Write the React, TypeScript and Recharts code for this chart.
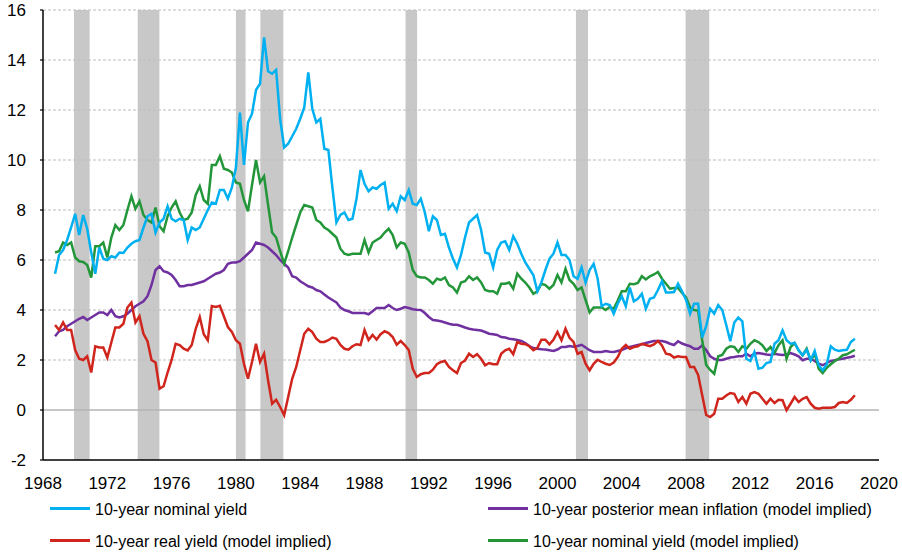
import React from 'react';
import { LineChart, Line, XAxis, YAxis, ReferenceArea, ReferenceLine } from 'recharts';

const FONT = '"Liberation Sans", Arial, Helvetica, sans-serif';

// Quarterly observations, first quarter = 1968 Q4
const START_YEAR = 1968.75;

const nominalYield = [
  5.45, 6.2, 6.4, 6.8, 7.3, 7.85, 7.0, 7.8, 7.25, 6.3,
  5.45, 6.5, 6.05, 6.0, 6.15, 6.1, 6.3, 6.28, 6.5, 6.65,
  6.75, 6.8, 7.3, 7.75, 7.85, 7.1, 7.5, 7.65, 8.15, 7.65,
  7.55, 7.65, 7.6, 6.8, 7.3, 7.2, 7.3, 7.65, 8.0, 8.3,
  8.25, 8.8, 8.8, 8.45, 8.9, 9.7, 11.9, 9.8, 11.5, 11.85,
  12.8, 13.05, 14.9, 13.55, 13.45, 13.6, 11.65, 10.5, 10.65, 10.95,
  11.25, 11.65, 12.1, 13.5, 12.05, 11.5, 11.65, 10.45, 10.4, 8.9,
  7.5, 7.8, 7.9, 7.6, 7.65, 8.45, 9.6, 9.05, 8.75, 8.9,
  8.85, 9.0, 9.1, 8.05, 8.25, 7.95, 8.55, 8.4, 8.8, 8.25,
  8.2, 8.45, 7.9, 7.15, 7.75, 7.6, 7.0, 7.05, 6.5, 6.05,
  5.7, 6.2, 6.9, 7.5, 7.65, 7.8, 7.2, 6.3, 6.25, 5.7,
  6.4, 6.7, 6.75, 6.4, 6.95, 6.65, 6.25, 5.9, 5.65, 5.4,
  4.75, 5.1, 5.6, 6.05, 6.25, 6.7, 6.2, 6.2, 6.0, 5.35,
  5.25, 5.7, 5.1, 5.6, 5.85, 5.25, 4.15, 4.25, 4.2, 3.85,
  4.25, 4.55, 4.15, 4.9, 4.35, 4.45, 4.65, 4.05, 4.45, 4.5,
  4.8, 5.15, 4.7, 4.7, 4.72, 5.05, 4.75, 4.4, 3.85, 4.25,
  4.25, 2.9, 3.35, 4.05, 3.85, 4.2, 4.0, 3.4, 2.75, 3.5,
  3.7, 3.55, 2.05, 1.96, 2.32, 1.65, 1.69, 1.88, 1.92, 2.65,
  2.79, 3.19, 2.79, 2.65, 2.68, 2.39, 2.19, 2.41, 1.99, 2.36,
  1.79, 1.59, 1.83, 2.55, 2.41, 2.36, 2.39, 2.41, 2.72, 2.85,
];

const meanInflation = [
  2.95, 3.15, 3.2, 3.35, 3.45, 3.55, 3.65, 3.72, 3.6, 3.7,
  3.8, 3.9, 3.9, 3.8, 4.0, 3.75, 3.7, 3.75, 3.85, 4.0,
  4.15, 4.25, 4.35, 4.55, 5.0, 5.6, 5.75, 5.55, 5.5, 5.4,
  5.2, 4.95, 4.95, 5.0, 5.0, 5.05, 5.1, 5.15, 5.25, 5.35,
  5.45, 5.5, 5.6, 5.85, 5.9, 5.9, 5.95, 6.1, 6.25, 6.4,
  6.7, 6.65, 6.6, 6.5, 6.35, 6.2, 6.0, 5.85, 5.7, 5.35,
  5.3, 5.15, 5.05, 4.95, 4.9, 4.8, 4.75, 4.62, 4.5, 4.4,
  4.3, 4.1, 4.0, 3.95, 3.88, 3.88, 3.88, 3.88, 3.83, 3.95,
  4.08, 4.08, 4.08, 4.2, 4.08, 4.0, 4.05, 4.12, 4.08, 4.03,
  4.01, 4.0, 3.88, 3.72, 3.6, 3.58, 3.55, 3.5, 3.45, 3.41,
  3.41, 3.36, 3.3, 3.25, 3.22, 3.2, 3.18, 3.12, 3.05, 3.03,
  3.0, 2.92, 2.9, 2.85, 2.83, 2.8, 2.76, 2.68, 2.56, 2.48,
  2.45, 2.43, 2.42, 2.39, 2.36, 2.42, 2.52, 2.52, 2.56, 2.53,
  2.56, 2.61, 2.5, 2.39, 2.32, 2.32, 2.32, 2.36, 2.33, 2.32,
  2.36, 2.4, 2.47, 2.52, 2.56, 2.6, 2.63, 2.68, 2.72, 2.76,
  2.76, 2.76, 2.72, 2.65, 2.6, 2.75, 2.66, 2.6, 2.55, 2.45,
  2.45, 2.58, 2.4, 2.15, 2.05, 2.0, 2.0, 2.05, 2.1, 2.12,
  2.15, 2.15, 2.25, 2.15, 2.25, 2.28, 2.25, 2.22, 2.2, 2.25,
  2.22, 2.2, 2.22, 2.28, 2.22, 2.15, 1.99, 2.05, 2.05, 1.96,
  1.85, 1.79, 1.88, 1.96, 1.99, 2.03, 2.05, 2.09, 2.12, 2.17,
];

const realYield = [
  3.4, 3.2, 3.5, 3.2, 3.2, 2.4, 2.05, 2.0, 2.15, 1.5,
  2.55, 2.5, 2.5, 2.1, 2.7, 3.3, 3.3, 3.45, 4.1, 4.3,
  3.5, 3.75, 3.05, 2.75, 2.0, 1.9, 0.85, 0.95, 1.5, 2.0,
  2.65, 2.6, 2.45, 2.38, 2.6, 3.25, 3.72, 3.03, 2.79, 4.16,
  4.12, 4.17, 3.75, 3.32, 3.12, 2.79, 2.65, 1.85, 1.25, 1.92,
  2.65, 1.92, 2.25, 1.19, 0.25, 0.41, 0.12, -0.21, 0.52, 1.25,
  1.72, 2.39, 3.05, 3.25, 3.12, 2.85, 2.72, 2.72, 2.79, 2.9,
  2.85, 2.6, 2.45, 2.41, 2.55, 2.63, 2.6, 3.2, 2.8, 3.0,
  2.82, 3.03, 3.15, 3.08, 2.92, 2.61, 2.76, 2.6, 2.4, 1.65,
  1.32, 1.43, 1.48, 1.48, 1.61, 1.83, 1.92, 1.96, 1.72, 1.59,
  1.48, 1.88, 1.98, 2.25, 2.12, 2.23, 2.05, 1.79, 1.88, 1.83,
  1.83, 2.25, 2.39, 2.45, 2.23, 2.72, 2.65, 2.63, 2.55, 2.39,
  2.49, 2.81, 2.81, 2.63, 2.81, 3.12, 2.79, 3.25, 2.89, 2.72,
  2.25, 2.32, 1.85, 1.59, 1.85, 2.01, 1.92, 1.85, 1.8, 1.9,
  2.12, 2.45, 2.6, 2.45, 2.52, 2.55, 2.65, 2.6, 2.55, 2.62,
  2.76, 2.58, 2.25, 2.22, 2.1, 2.15, 2.12, 2.12, 1.72, 1.72,
  1.4, 0.6, -0.2, -0.28, -0.15, 0.45, 0.45, 0.58, 0.68, 0.65,
  0.32, 0.52, 0.25, 0.65, 0.72, 0.65, 0.45, 0.25, 0.45, 0.28,
  0.41, 0.39, -0.01, 0.25, 0.52, 0.32, 0.45, 0.52, 0.25, 0.09,
  0.05, 0.09, 0.09, 0.09, 0.12, 0.28, 0.32, 0.28, 0.41, 0.59,
];

const modelNominal = [
  6.3, 6.35, 6.7, 6.6, 6.7, 6.1, 5.95, 5.92, 5.8, 5.3,
  6.55, 6.55, 6.7, 6.1, 6.9, 7.4, 7.2, 7.4, 8.0, 8.55,
  8.05, 8.35, 7.8, 7.6, 7.5, 8.1, 7.35, 7.15, 7.75, 8.1,
  8.35, 7.9, 7.6, 7.65, 7.9, 8.6, 8.95, 8.4, 8.25, 9.8,
  9.8, 10.15, 9.65, 9.6, 9.5, 9.1, 9.05, 8.4, 7.95, 9.0,
  10.0, 9.1, 9.35, 8.2, 7.1, 6.9, 6.35, 5.85, 6.35, 6.9,
  7.4, 7.9, 8.2, 8.15, 8.1, 7.6, 7.5, 7.3, 7.2, 7.05,
  6.9, 6.45, 6.25, 6.2, 6.25, 6.25, 6.25, 6.8, 6.3, 6.7,
  6.8, 6.9, 7.1, 7.25, 7.0, 6.5, 6.7, 6.65, 6.3, 5.6,
  5.35, 5.3, 5.3, 5.2, 5.05, 5.25, 5.2, 5.3, 5.0, 4.9,
  4.7, 5.1, 5.15, 5.35, 5.2, 5.3, 5.1, 4.8, 4.75, 4.75,
  4.65, 5.05, 5.05, 5.1, 4.85, 5.45, 5.25, 5.1, 4.9, 4.65,
  4.75, 5.05, 5.0, 4.85, 5.0, 5.4, 5.1, 5.65, 5.2, 5.05,
  4.8, 4.9, 4.4, 3.9, 4.1, 4.1, 4.1, 4.0, 4.12, 4.05,
  4.38, 4.75, 4.75, 5.05, 5.03, 5.08, 5.35, 5.22, 5.35, 5.42,
  5.52, 5.25, 5.05, 4.85, 4.88, 4.88, 4.68, 4.5, 4.1, 4.0,
  3.98, 2.8, 1.8, 1.6, 1.45, 2.15, 2.2, 2.45, 2.55, 2.52,
  2.32, 2.55, 2.45, 2.65, 2.79, 2.72, 2.59, 2.36, 2.52, 2.28,
  2.59, 2.79, 2.05, 2.52, 2.68, 2.39, 2.19, 2.45, 1.99, 2.25,
  1.65, 1.48, 1.69, 1.83, 1.96, 2.05, 2.19, 2.23, 2.32, 2.41,
];

// NBER recessions (start, end) in fractional years
const recessions: [number, number][] = [
  [1969.93, 1970.9],
  [1973.89, 1975.24],
  [1980.0, 1980.6],
  [1981.52, 1982.95],
  [1990.55, 1991.27],
  [2001.15, 2001.9],
  [2007.97, 2009.44],
];

const xTicks = [1968, 1972, 1976, 1980, 1984, 1988, 1992, 1996, 2000, 2004, 2008, 2012, 2016, 2020];
const yTicks = [-2, 0, 2, 4, 6, 8, 10, 12, 14, 16];
const gridLevels = [2, 4, 6, 8, 10, 12, 14, 16];

const seriesNames = {
  nominal: '10-year nominal yield',
  inflation: '10-year posterior mean inflation (model implied)',
  real: '10-year real yield (model implied)',
  model: '10-year nominal yield (model implied)',
};

const COLORS = {
  nominal: '#00b0f0',
  inflation: '#7030a0',
  real: '#d0251c',
  model: '#23963a',
};

const data = nominalYield.map((v, i) => ({
  t: START_YEAR + 0.25 * i,
  nominal: v,
  inflation: meanInflation[i],
  real: realYield[i],
  model: modelNominal[i],
}));

const legendItems = [
  { key: 'nominal', lx: 50, tx: 95, cy: 509 },
  { key: 'inflation', lx: 488, tx: 533, cy: 509 },
  { key: 'real', lx: 50, tx: 95, cy: 541 },
  { key: 'model', lx: 488, tx: 533, cy: 541 },
] as const;

export default function App() {
  return (
    <div style={{ position: 'absolute', left: 0, top: 0, width: 902, height: 553, background: '#fff', fontFamily: FONT }}>
      <LineChart width={902} height={553} data={data} margin={{ top: 10, right: 23, bottom: 63, left: 0 }}>
        <XAxis
          xAxisId="x"
          dataKey="t"
          type="number"
          domain={[1968, 2020]}
          ticks={xTicks}
          interval={0}
          allowDataOverflow
          height={30}
          tickLine={false}
          tickSize={0}
          tickMargin={17}
          axisLine={{ stroke: '#000', strokeWidth: 1.5 }}
          tick={{ fill: '#000', fontSize: 17, fontFamily: FONT }}
        />
        <XAxis
          xAxisId="xt"
          dataKey="t"
          type="number"
          domain={[1968, 2020]}
          ticks={xTicks}
          interval={0}
          allowDataOverflow
          mirror
          tick={false}
          axisLine={false}
          tickSize={4}
          tickLine={{ stroke: '#000', strokeWidth: 1.2 }}
        />
        <YAxis
          yAxisId="y"
          type="number"
          domain={[-2, 16]}
          ticks={yTicks}
          interval={0}
          width={43}
          tickSize={3}
          tickMargin={14}
          tickLine={{ stroke: '#000', strokeWidth: 1.2 }}
          axisLine={{ stroke: '#000', strokeWidth: 1.5 }}
          tick={{ fill: '#000', fontSize: 17, fontFamily: FONT }}
        />
        <YAxis
          yAxisId="yr"
          orientation="right"
          mirror
          type="number"
          domain={[-2, 16]}
          ticks={yTicks}
          interval={0}
          width={0}
          tick={false}
          tickSize={4}
          tickLine={{ stroke: '#000', strokeWidth: 1.2 }}
          axisLine={{ stroke: '#000', strokeWidth: 1.5 }}
        />
        {recessions.map(([a, b]) => (
          <ReferenceArea
            key={a}
            xAxisId="x"
            yAxisId="y"
            x1={a}
            x2={b}
            y1={-2}
            y2={16}
            fill="#c8c8c8"
            fillOpacity={1}
            stroke="none"
            ifOverflow="visible"
          />
        ))}
        {gridLevels.map((v) => (
          <ReferenceLine
            key={v}
            xAxisId="x"
            yAxisId="y"
            y={v}
            stroke="#bdbdbd"
            strokeWidth={1.2}
            strokeDasharray="3 2"
          />
        ))}
        <ReferenceLine xAxisId="x" yAxisId="y" y={0} stroke="#b4b4b4" strokeWidth={1.5} />
        <Line xAxisId="x" yAxisId="y" dataKey="inflation" stroke={COLORS.inflation} strokeWidth={2.5} dot={false} isAnimationActive={false} type="linear" />
        <Line xAxisId="x" yAxisId="y" dataKey="real" stroke={COLORS.real} strokeWidth={2.5} dot={false} isAnimationActive={false} type="linear" />
        <Line xAxisId="x" yAxisId="y" dataKey="model" stroke={COLORS.model} strokeWidth={2.5} dot={false} isAnimationActive={false} type="linear" />
        <Line xAxisId="x" yAxisId="y" dataKey="nominal" stroke={COLORS.nominal} strokeWidth={2.5} dot={false} isAnimationActive={false} type="linear" />
      </LineChart>
      <svg width={902} height={553} style={{ position: 'absolute', left: 0, top: 0, pointerEvents: 'none' }}>
        {legendItems.map((it) => (
          <g key={it.key}>
            <line x1={it.lx} x2={it.lx + 40} y1={it.cy - 0.5} y2={it.cy - 0.5} stroke={COLORS[it.key]} strokeWidth={3} />
            <text x={it.tx} y={it.cy + 5.8} fontSize={16} fontFamily={FONT} fill="#000">
              {seriesNames[it.key]}
            </text>
          </g>
        ))}
      </svg>
    </div>
  );
}
